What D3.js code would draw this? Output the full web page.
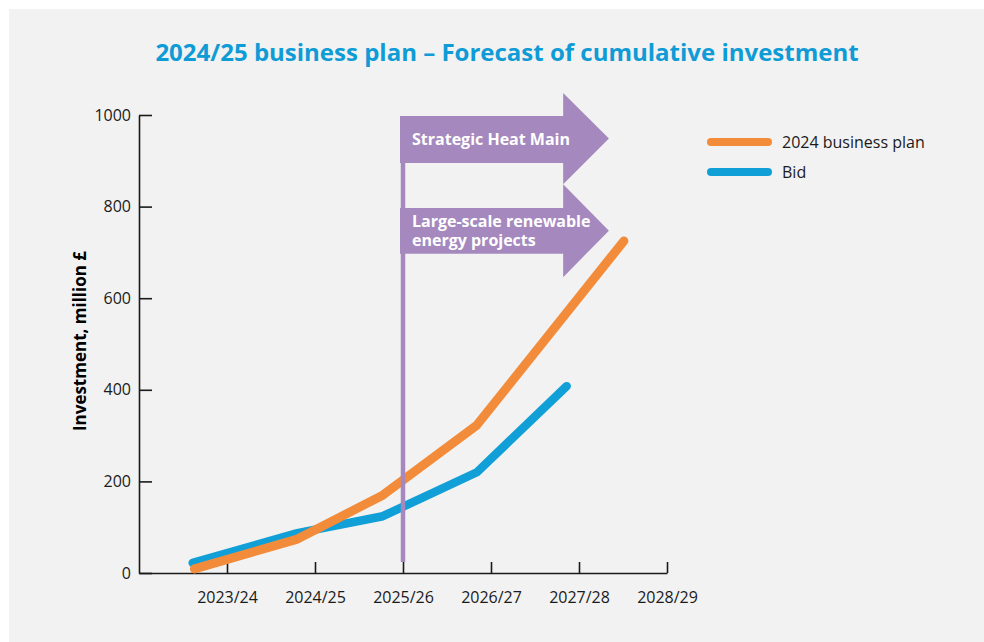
<!DOCTYPE html>
<html>
  <head>
    <meta charset="utf-8" />
    <title>2024/25 business plan – Forecast of cumulative investment</title>
    <script src="https://d3js.org/d3.v7.min.js"></script>
    <style>
      html,
      body {
        margin: 0;
        padding: 0;
        background: #fff;
        font-family: "Open Sans", "Noto Sans", sans-serif;
      }
      #chart {
        width: 984px;
        height: 642px;
      }
    </style>
  </head>
  <body>
    <div id="chart"></div>
    <script>
      // tick labels (financial years)
      const years = ["2023/24", "2024/25", "2025/26", "2026/27", "2027/28", "2028/29"];
      const yTicks = [0, 200, 400, 600, 800, 1000];

      // position along the year axis (0 = 2023/24 tick) and cumulative investment, million £
      const planPos = [-0.37, 0.8, 1.77, 2.84, 4.51];
      const planValues = [9, 74, 170, 323, 725];
      const bidPos = [-0.39, 0.8, 1.77, 2.84, 3.86];
      const bidValues = [22, 87, 124, 220, 408];

      const seriesNames = ["2024 business plan", "Bid"];
      const arrowLabels = [["Strategic Heat Main"], ["Large-scale renewable", "energy projects"]];

      const orange = "#f28c3a";
      const blue = "#109fd7";
      const purple = "#a589be";
      const ink = "#1a1a1a";

      const width = 984;
      const height = 642;

      const svg = d3
        .select("#chart")
        .append("svg")
        .attr("width", width)
        .attr("height", height);

      // light grey panel
      svg
        .append("rect")
        .attr("x", 9)
        .attr("y", 9)
        .attr("width", width - 9)
        .attr("height", height - 9)
        .attr("fill", "#f2f2f2");

      const x = d3.scaleLinear().domain([-1, 5]).range([139, 667]);
      const y = d3.scaleLinear().domain([0, 1000]).range([573, 115]);

      // title
      svg
        .append("text")
        .attr("x", 507)
        .attr("y", 61)
        .attr("text-anchor", "middle")
        .attr("fill", "#0e9bd6")
        .style("font-size", "24px")
        .style("font-weight", 700)
        .text("2024/25 business plan – Forecast of cumulative investment");

      // axes
      const yAxis = svg
        .append("g")
        .attr("transform", `translate(${x(-1)},0)`)
        .call(
          d3
            .axisLeft(y)
            .tickValues(yTicks)
            .tickFormat(d3.format("d"))
            .tickSizeInner(-13)
            .tickSizeOuter(0)
            .tickPadding(8)
        );

      const xAxis = svg
        .append("g")
        .attr("transform", `translate(0,${y(0)})`)
        .call(
          d3
            .axisBottom(x)
            .tickValues(d3.range(years.length))
            .tickFormat((d) => years[d])
            .tickSizeInner(-11)
            .tickSizeOuter(0)
            .tickPadding(19)
        );

      [xAxis, yAxis].forEach((g) => {
        g.select(".domain").attr("stroke", ink).attr("stroke-width", 1.6);
        g.selectAll(".tick line").attr("stroke", ink).attr("stroke-width", 1.6);
        g.selectAll(".tick text")
          .attr("fill", ink)
          .style("font-size", "16px")
          .style("font-family", "'Open Sans', 'Noto Sans', sans-serif");
      });

      // y axis title
      svg
        .append("text")
        .attr("transform", `translate(86,${y(500) - 3}) rotate(-90)`)
        .attr("text-anchor", "middle")
        .attr("fill", "#000")
        .style("font-size", "17px")
        .style("font-weight", 700)
        .text("Investment, million £");

      const line = d3
        .line()
        .x((d) => x(d[0]))
        .y((d) => y(d[1]));

      const bid = d3.zip(bidPos, bidValues);
      const plan = d3.zip(planPos, planValues);

      svg
        .append("path")
        .datum(bid)
        .attr("d", line)
        .attr("fill", "none")
        .attr("stroke", blue)
        .attr("stroke-width", 8.5)
        .attr("stroke-linecap", "round")
        .attr("stroke-linejoin", "round");

      svg
        .append("path")
        .datum(plan)
        .attr("d", line)
        .attr("fill", "none")
        .attr("stroke", orange)
        .attr("stroke-width", 9)
        .attr("stroke-linecap", "round")
        .attr("stroke-linejoin", "round");

      // vertical marker at 2025/26
      svg
        .append("line")
        .attr("x1", x(2))
        .attr("x2", x(2))
        .attr("y1", y(995))
        .attr("y2", y(24))
        .attr("stroke", purple)
        .attr("stroke-width", 4.5);

      // arrows: body top/bottom and head top/bottom in value units
      const arrows = [
        { top: 998, bottom: 895, headTop: 1048, headBottom: 849 },
        { top: 797, bottom: 697, headTop: 849, headBottom: 646 },
      ];
      const bodyEnd = 3.82;
      const tipEnd = 4.34;

      arrows.forEach((a, i) => {
        const mid = (a.headTop + a.headBottom) / 2;
        const pts = [
          [x(2) - 3, y(a.top)],
          [x(bodyEnd), y(a.top)],
          [x(bodyEnd), y(a.headTop)],
          [x(tipEnd), y(mid)],
          [x(bodyEnd), y(a.headBottom)],
          [x(bodyEnd), y(a.bottom)],
          [x(2) - 3, y(a.bottom)],
        ];
        svg
          .append("path")
          .attr("d", d3.line()(pts) + "Z")
          .attr("fill", purple);

        const lines = arrowLabels[i];
        const cy = (y(a.top) + y(a.bottom)) / 2;
        const lh = 19;
        svg
          .append("text")
          .attr("x", x(2) + 9)
          .attr("fill", "#fff")
          .style("font-size", "16px")
          .style("font-weight", 700)
          .selectAll("tspan")
          .data(lines)
          .join("tspan")
          .attr("x", x(2) + 9)
          .attr("y", (d, j) => cy + (j - (lines.length - 1) / 2) * lh)
          .attr("dy", "0.35em")
          .text((d) => d);
      });

      // legend
      const legend = svg.append("g").attr("transform", "translate(711,142)");
      const legendColors = [orange, blue];
      seriesNames.forEach((name, i) => {
        const g = legend.append("g").attr("transform", `translate(0,${i * 30})`);
        g.append("line")
          .attr("x1", 0)
          .attr("x2", 57)
          .attr("stroke", legendColors[i])
          .attr("stroke-width", 8)
          .attr("stroke-linecap", "round");
        g.append("text")
          .attr("x", 71)
          .attr("dy", "0.35em")
          .attr("fill", ink)
          .style("font-size", "16px")
          .text(name);
      });
    </script>
  </body>
</html>
